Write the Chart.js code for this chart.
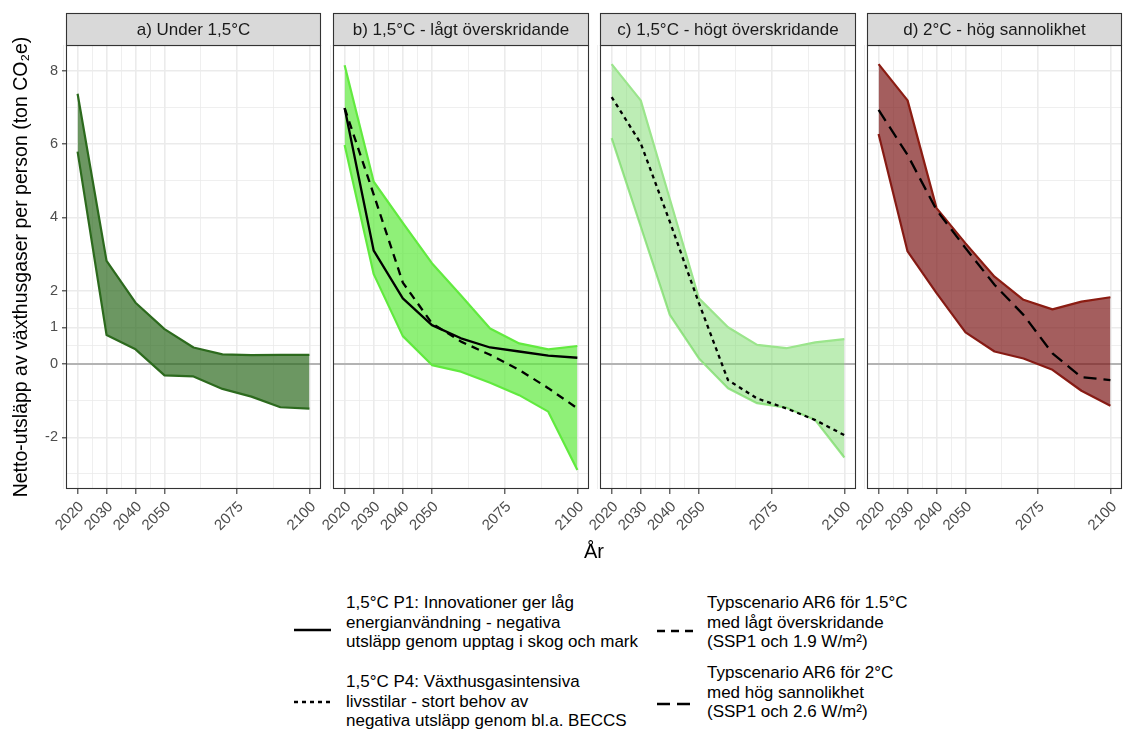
<!DOCTYPE html>
<html><head><meta charset="utf-8">
<script src="https://cdn.jsdelivr.net/npm/chart.js@4.4.1/dist/chart.umd.min.js"></script>
<style>
body{margin:0;background:#fff;width:1123px;height:729px;position:relative;overflow:hidden;font-family:"Liberation Sans",Arial,sans-serif;}
canvas{position:absolute;top:0;}
.txt{position:absolute;font-size:17px;line-height:19.5px;color:#000;white-space:nowrap;}
.key{position:absolute;}
#xtitle{position:absolute;left:0;width:1188px;text-align:center;top:540px;font-size:20px;color:#000;}
</style></head><body>
<canvas id="pa" width="322" height="545" style="left:0px"></canvas>
<canvas id="pb" width="297" height="545" style="left:293px"></canvas>
<canvas id="pc" width="297" height="545" style="left:560px"></canvas>
<canvas id="pd" width="296" height="545" style="left:827px"></canvas>
<div id="xtitle">År</div>

<svg class="key" style="left:292px;top:620px" width="42" height="20"><line x1="2" y1="10" x2="39" y2="10" stroke="#000" stroke-width="2.3"/></svg>
<div class="txt" style="left:346px;top:593px">1,5°C P1: Innovationer ger låg<br>energianvändning - negativa<br>utsläpp genom upptag i skog och mark</div>
<svg class="key" style="left:292px;top:692px" width="42" height="20"><line x1="2" y1="10" x2="39" y2="10" stroke="#000" stroke-width="2.3" stroke-dasharray="4 4"/></svg>
<div class="txt" style="left:346px;top:672px">1,5°C P4: Växthusgasintensiva<br>livsstilar - stort behov av<br>negativa utsläpp genom bl.a. BECCS</div>
<svg class="key" style="left:655px;top:621px" width="42" height="20"><line x1="2" y1="10" x2="39" y2="10" stroke="#000" stroke-width="2.3" stroke-dasharray="8 6"/></svg>
<div class="txt" style="left:707px;top:593px">Typscenario AR6 för 1.5°C<br>med lågt överskridande<br>(SSP1 och 1.9 W/m²)</div>
<svg class="key" style="left:655px;top:694px" width="42" height="20"><line x1="2" y1="10" x2="39" y2="10" stroke="#000" stroke-width="2.3" stroke-dasharray="13 7"/></svg>
<div class="txt" style="left:707px;top:663px">Typscenario AR6 för 2°C<br>med hög sannolikhet<br>(SSP1 och 2.6 W/m²)</div>

<script>
// ---- data ----
const years = [2020, 2030, 2040, 2050, 2060, 2070, 2080, 2090, 2100];
const xMajorTicks = [2020, 2030, 2040, 2050, 2075, 2100];
const yMajorTicks = [-2, 0, 1, 2, 4, 6, 8];
const panelTitles = ['a) Under 1,5°C', 'b) 1,5°C - lågt överskridande', 'c) 1,5°C - högt överskridande', 'd) 2°C - hög sannolikhet'];

const aUpper = [7.37, 2.81, 1.67, 0.95, 0.45, 0.26, 0.24, 0.25, 0.25];
const aLower = [5.79, 0.79, 0.40, -0.31, -0.34, -0.68, -0.89, -1.18, -1.22];

const bUpper = [8.15, 4.97, 3.85, 2.75, 1.87, 0.97, 0.56, 0.40, 0.49];
const bLower = [5.97, 2.45, 0.76, -0.03, -0.21, -0.51, -0.85, -1.30, -2.89];
const bP1 = [6.98, 3.09, 1.79, 1.06, 0.70, 0.45, 0.34, 0.23, 0.17];
const bAR6low = [6.98, 4.62, 2.22, 1.11, 0.61, 0.25, -0.16, -0.66, -1.21];

const cUpper = [8.18, 7.19, 4.50, 1.79, 1.00, 0.52, 0.43, 0.59, 0.68];
const cLower = [6.16, 3.75, 1.34, 0.15, -0.66, -1.07, -1.19, -1.53, -2.55];
const cP4 = [7.28, 6.02, 3.88, 1.66, -0.44, -0.94, -1.21, -1.53, -1.94];

const dUpper = [8.18, 7.19, 4.25, 3.29, 2.38, 1.75, 1.49, 1.70, 1.82];
const dLower = [6.27, 3.07, 1.93, 0.86, 0.34, 0.15, -0.16, -0.73, -1.14];
const dAR6high = [6.93, 5.70, 4.20, 3.16, 2.16, 1.34, 0.29, -0.36, -0.44];

// ---- helpers ----
const FONT = '"Liberation Sans", Arial, sans-serif';
function pts(vals){ return years.map((y,i)=>({x:y, y:vals[i]})); }
function withMinor(major){
  const s = [...major].sort((a,b)=>a-b);
  const out = [...s];
  for(let i=0;i<s.length-1;i++) out.push((s[i]+s[i+1])/2);
  out.push(s[0]-(s[1]-s[0])/2);
  out.push(s[s.length-1]+(s[s.length-1]-s[s.length-2])/2);
  return out.sort((a,b)=>a-b);
}
const xGrid = withMinor(xMajorTicks);
const yGrid = withMinor(yMajorTicks);
const isMajor = (arr, v) => arr.some(m => Math.abs(m - v) < 1e-9);

const panelDeco = {
  id:'panelDeco',
  beforeDatasetsDraw(chart){
    const {ctx, chartArea:ca} = chart;
    const y0 = chart.scales.y.getPixelForValue(0);
    ctx.save();
    ctx.strokeStyle = '#b3b3b3'; ctx.lineWidth = 2;
    ctx.beginPath(); ctx.moveTo(ca.left, y0); ctx.lineTo(ca.right, y0); ctx.stroke();
    ctx.restore();
  },
  afterDraw(chart, args, opts){
    const {ctx, chartArea:ca} = chart;
    ctx.save();
    ctx.strokeStyle = '#333333'; ctx.lineWidth = 1.1;
    ctx.strokeRect(ca.left+0.5, ca.top+0.5, ca.right-ca.left-1, ca.bottom-ca.top-1);
    const top = 13;
    ctx.fillStyle = '#d9d9d9';
    ctx.fillRect(ca.left+0.5, top+0.5, ca.right-ca.left-1, ca.top-top);
    ctx.strokeRect(ca.left+0.5, top+0.5, ca.right-ca.left-1, ca.top-top);
    ctx.fillStyle = '#1a1a1a';
    ctx.font = '17px ' + FONT;
    ctx.textAlign = 'center'; ctx.textBaseline = 'middle';
    ctx.fillText(opts.label, (ca.left+ca.right)/2, (top+ca.top)/2 + 1);
    ctx.restore();
  }
};
Chart.register(panelDeco);

function ribbon(upper, lower, line, fill){
  return [
    {data:pts(upper), borderColor:line, borderWidth:2.2, backgroundColor:fill, fill:'+1', order:2},
    {data:pts(lower), borderColor:line, borderWidth:2.2, fill:false, order:2}
  ];
}
function scen(vals, dash){
  return {data:pts(vals), borderColor:'#000', borderWidth:2.3, borderDash:dash, fill:false, order:1};
}

function makeChart(id, label, datasets, showY){
  return new Chart(document.getElementById(id), {
    type:'line',
    data:{datasets},
    options:{
      responsive:false, animation:false, events:[],
      layout:{padding:{top:45, right:1, left: showY ? 0 : 40, bottom:0}},
      plugins:{legend:{display:false}, tooltip:{enabled:false}, panelDeco:{label}},
      elements:{point:{radius:0}, line:{tension:0, borderCapStyle:'butt', borderJoinStyle:'round'}},
      scales:{
        x:{
          type:'linear', min:2016, max:2104,
          afterBuildTicks(s){ s.ticks = xGrid.map(v=>({value:v})); },
          afterFit(s){ s.height = 56; s.paddingLeft = 0; s.paddingRight = 0; },
          ticks:{autoSkip:false, maxRotation:45, minRotation:45, padding:4, labelOffset:4, color:'#4d4d4d',
                 font:{size:15, family:FONT},
                 callback:(v)=> isMajor(xMajorTicks, v) ? String(v) : ''},
          grid:{color:'#ebebeb', lineWidth:(c)=> (c.tick && isMajor(xMajorTicks, c.tick.value)) ? 1.6 : 0.8,
                drawTicks:true, tickLength:5, tickWidth:1.1,
                tickColor:(c)=> (c.tick && isMajor(xMajorTicks, c.tick.value)) ? '#333333' : 'rgba(0,0,0,0)'},
          border:{display:false}
        },
        y:{
          type:'linear', min:-3.41, max:8.70,
          afterBuildTicks(s){ s.ticks = yGrid.map(v=>({value:v})); },
          afterFit(s){ s.width = showY ? 66 : 0; s.paddingTop = 0; s.paddingBottom = 0; },
          ticks:{display:showY, padding:4, color:'#4d4d4d',
                 font:{size:14.5, family:FONT},
                 callback:(v)=> isMajor(yMajorTicks, v) ? String(v) : ''},
          grid:{color:'#ebebeb', lineWidth:(c)=> (c.tick && isMajor(yMajorTicks, c.tick.value)) ? 1.6 : 0.8,
                drawTicks:showY, tickLength:4, tickWidth:1.1,
                tickColor:(c)=> (c.tick && isMajor(yMajorTicks, c.tick.value)) ? '#333333' : 'rgba(0,0,0,0)'},
          border:{display:false},
          title:{display:showY, text:'Netto-utsläpp av växthusgaser per person (ton CO₂e)', color:'#000',
                 font:{size:19.5, family:FONT}, padding:{top:10, bottom:0}}
        }
      }
    }
  });
}

makeChart('pa', panelTitles[0], ribbon(aUpper, aLower, '#2c6a1d', 'rgba(46,107,32,0.7)'), true);
makeChart('pb', panelTitles[1], [scen(bP1, []), scen(bAR6low, [8,6]), ...ribbon(bUpper, bLower, '#62ea3f', 'rgba(95,234,62,0.7)')], false);
makeChart('pc', panelTitles[2], [scen(cP4, [4,4]), ...ribbon(cUpper, cLower, '#9be58c', 'rgba(123,219,107,0.5)')], false);
makeChart('pd', panelTitles[3], [scen(dAR6high, [13,7]), ...ribbon(dUpper, dLower, '#8b1c12', 'rgba(126,25,25,0.7)')], false);
</script>
</body></html>
